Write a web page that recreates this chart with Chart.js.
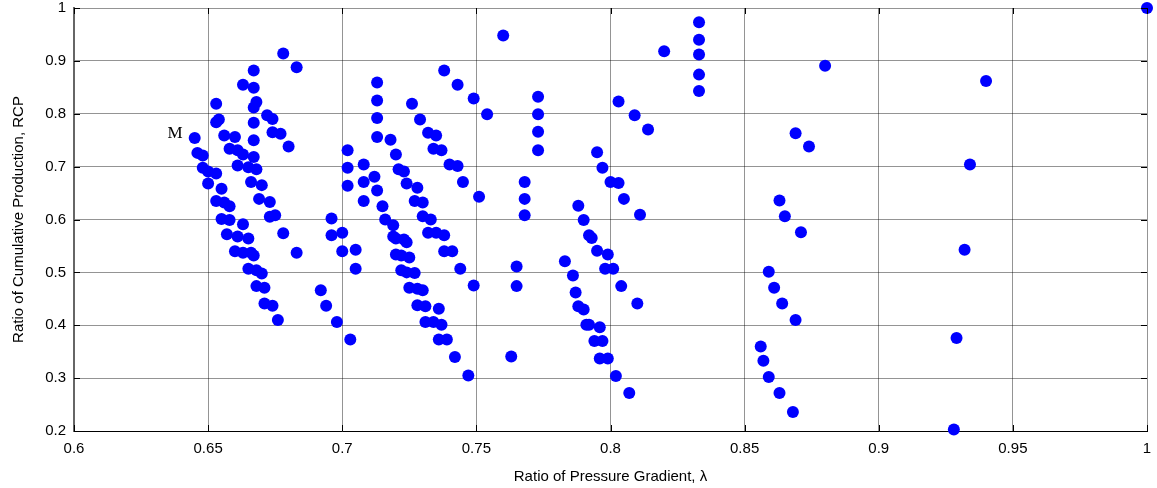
<!DOCTYPE html>
<html lang="en">
<head>
<meta charset="UTF-8">
<title>RCP vs ratio of pressure gradient</title>
<script src="https://cdn.jsdelivr.net/npm/chart.js@4.4.1/dist/chart.umd.min.js"></script>
<style>
    html, body { margin: 0; padding: 0; background: #fff; }
</style>
</head>
<body>
<canvas id="rcpChart" width="1157" height="488"></canvas>
<script>
// axis ticks
var xTicks = [0.6, 0.65, 0.7, 0.75, 0.8, 0.85, 0.9, 0.95, 1];
var xTickLabels = ['0.6', '0.65', '0.7', '0.75', '0.8', '0.85', '0.9', '0.95', '1'];
var yTicks = [0.2, 0.3, 0.4, 0.5, 0.6, 0.7, 0.8, 0.9, 1];
var yTickLabels = ['0.2', '0.3', '0.4', '0.5', '0.6', '0.7', '0.8', '0.9', '1'];

// band 1 : lambda 0.64 - 0.69 (first point is case M)
var lambda1 = [0.645, 0.646, 0.648, 0.648, 0.650, 0.650, 0.653, 0.653, 0.654, 0.653, 0.653, 0.655, 0.655,
    0.656, 0.656, 0.657, 0.658, 0.658, 0.658, 0.660, 0.660, 0.661, 0.661, 0.661, 0.663, 0.663, 0.663, 0.663,
    0.665, 0.665, 0.665, 0.666, 0.666, 0.667, 0.667, 0.667, 0.667, 0.667, 0.667, 0.667, 0.668, 0.668, 0.668,
    0.668, 0.669, 0.670, 0.670, 0.671, 0.671, 0.672, 0.673, 0.673, 0.674, 0.674, 0.674, 0.675, 0.676, 0.677,
    0.678, 0.678, 0.680, 0.683, 0.683];
var rcp1 = [0.754, 0.726, 0.721, 0.698, 0.691, 0.668, 0.687, 0.819, 0.789, 0.784, 0.635, 0.658, 0.601,
    0.759, 0.632, 0.572, 0.734, 0.625, 0.599, 0.756, 0.540, 0.731, 0.702, 0.568, 0.855, 0.723, 0.591, 0.537,
    0.699, 0.564, 0.507, 0.671, 0.537, 0.882, 0.849, 0.812, 0.783, 0.750, 0.718, 0.532, 0.822, 0.695, 0.504,
    0.474, 0.639, 0.665, 0.498, 0.471, 0.441, 0.797, 0.633, 0.605, 0.790, 0.765, 0.437, 0.608, 0.410, 0.762,
    0.914, 0.574, 0.738, 0.888, 0.537];

// band 2 : lambda 0.69 - 0.76
var lambda2 = [0.692, 0.694, 0.696, 0.696, 0.698, 0.700, 0.700, 0.702, 0.702, 0.702, 0.703, 0.705, 0.705,
    0.708, 0.708, 0.708, 0.712, 0.713, 0.713, 0.713, 0.713, 0.713, 0.715, 0.716, 0.718, 0.719, 0.719, 0.720,
    0.720, 0.720, 0.721, 0.722, 0.722, 0.723, 0.723, 0.724, 0.724, 0.724, 0.725, 0.725, 0.726, 0.727, 0.727,
    0.728, 0.728, 0.728, 0.729, 0.730, 0.730, 0.730, 0.731, 0.731, 0.732, 0.732, 0.733, 0.734, 0.734, 0.735,
    0.735, 0.736, 0.736, 0.737, 0.737, 0.738, 0.738, 0.738, 0.739, 0.740, 0.741, 0.742, 0.743, 0.743, 0.744,
    0.745, 0.747, 0.749, 0.749, 0.751, 0.754];
var rcp2 = [0.466, 0.437, 0.602, 0.570, 0.406, 0.575, 0.540, 0.731, 0.698, 0.664, 0.373, 0.543, 0.507,
    0.704, 0.671, 0.635, 0.681, 0.859, 0.825, 0.792, 0.756, 0.655, 0.625, 0.600, 0.751, 0.589, 0.568, 0.564,
    0.723, 0.534, 0.695, 0.532, 0.504, 0.691, 0.562, 0.668, 0.557, 0.500, 0.528, 0.471, 0.819, 0.635, 0.499,
    0.660, 0.469, 0.438, 0.789, 0.632, 0.606, 0.466, 0.436, 0.406, 0.764, 0.575, 0.600, 0.734, 0.406, 0.759,
    0.575, 0.431, 0.373, 0.731, 0.401, 0.882, 0.570, 0.540, 0.373, 0.704, 0.540, 0.340, 0.855, 0.701, 0.507,
    0.671, 0.305, 0.829, 0.475, 0.643, 0.799];

// band 3 : lambda 0.76 - 0.78
var lambda3 = [0.760, 0.763, 0.765, 0.765, 0.768, 0.768, 0.768, 0.773, 0.773, 0.773, 0.773];
var rcp3 = [0.948, 0.341, 0.511, 0.474, 0.671, 0.639, 0.608, 0.832, 0.799, 0.766, 0.731];

// band 4 : lambda 0.78 - 0.84
var lambda4 = [0.783, 0.786, 0.787, 0.788, 0.788, 0.790, 0.790, 0.791, 0.792, 0.792, 0.793, 0.794, 0.795,
    0.795, 0.796, 0.796, 0.797, 0.797, 0.798, 0.799, 0.799, 0.800, 0.801, 0.802, 0.803, 0.803, 0.804, 0.805,
    0.807, 0.809, 0.810, 0.811, 0.814, 0.820, 0.833, 0.833, 0.833, 0.833, 0.833];
var rcp4 = [0.521, 0.494, 0.462, 0.626, 0.436, 0.599, 0.430, 0.401, 0.570, 0.401, 0.565, 0.370, 0.727,
    0.541, 0.396, 0.337, 0.698, 0.370, 0.507, 0.534, 0.337, 0.671, 0.507, 0.304, 0.823, 0.669, 0.474, 0.639,
    0.272, 0.797, 0.441, 0.609, 0.770, 0.918, 0.973, 0.940, 0.912, 0.874, 0.843];

// band 5 : lambda 0.85 - 0.88
var lambda5 = [0.856, 0.857, 0.859, 0.859, 0.861, 0.863, 0.863, 0.864, 0.865, 0.868, 0.869, 0.869, 0.871,
    0.874, 0.880];
var rcp5 = [0.360, 0.333, 0.501, 0.302, 0.471, 0.636, 0.272, 0.441, 0.606, 0.236, 0.763, 0.410, 0.576,
    0.738, 0.891];

// band 6 : lambda 0.92 - 1
var lambda6 = [0.928, 0.929, 0.932, 0.934, 0.940, 1.0];
var rcp6 = [0.203, 0.376, 0.543, 0.704, 0.862, 1.0];

var bands = [[lambda1, rcp1], [lambda2, rcp2], [lambda3, rcp3], [lambda4, rcp4], [lambda5, rcp5], [lambda6, rcp6]];
var points = [];
bands.forEach(function (b) {
    for (var i = 0; i < b[0].length; i++) {
        points.push({ x: b[0][i], y: b[1][i] });
    }
});

var tickFont = { family: '"Liberation Sans", Arial, sans-serif', size: 15 };
var gridColor = 'rgba(0,0,0,0.42)';

// short inward tick marks on all four sides + the "M" note
var frameTicks = {
    id: 'frameTicks',
    afterDraw: function (chart) {
        var ctx = chart.ctx, a = chart.chartArea;
        var xs = chart.scales.x, ys = chart.scales.y;
        ctx.save();
        ctx.strokeStyle = '#000';
        ctx.lineWidth = 1;
        ctx.beginPath();
        xTicks.forEach(function (v) {
            var px = Math.round(xs.getPixelForValue(v)) + 0.5;
            ctx.moveTo(px, a.bottom); ctx.lineTo(px, a.bottom - 6);
            ctx.moveTo(px, a.top); ctx.lineTo(px, a.top + 6);
        });
        yTicks.forEach(function (v) {
            var py = Math.round(ys.getPixelForValue(v)) + 0.5;
            ctx.moveTo(a.left, py); ctx.lineTo(a.left + 6, py);
            ctx.moveTo(a.right, py); ctx.lineTo(a.right - 6, py);
        });
        ctx.stroke();

        ctx.font = '17px "Liberation Serif", "Times New Roman", serif';
        ctx.fillStyle = '#000';
        ctx.textAlign = 'right';
        ctx.textBaseline = 'middle';
        ctx.fillText('M', xs.getPixelForValue(lambda1[0]) - 12, ys.getPixelForValue(rcp1[0]) - 5);
        ctx.restore();
    }
};

new Chart(document.getElementById('rcpChart'), {
    type: 'scatter',
    data: {
        datasets: [{
            data: points,
            backgroundColor: '#0000ff',
            borderColor: '#0000ff',
            borderWidth: 0,
            pointRadius: 6,
            pointHoverRadius: 6,
            clip: false
        }]
    },
    options: {
        responsive: false,
        animation: false,
        events: [],
        layout: { padding: { top: 8, right: 10, left: 0, bottom: 0 } },
        plugins: {
            legend: { display: false },
            tooltip: { enabled: false }
        },
        scales: {
            x: {
                type: 'linear',
                min: 0.6,
                max: 1,
                afterFit: function (scale) {
                    scale.height = 57;
                    scale.paddingLeft = 0;
                    scale.paddingRight = 0;
                },
                afterBuildTicks: function (scale) {
                    scale.ticks = xTicks.map(function (v) { return { value: v }; });
                },
                ticks: {
                    color: '#000',
                    font: tickFont,
                    padding: 9,
                    maxRotation: 0,
                    callback: function (v) { return xTickLabels[xTicks.indexOf(v)]; }
                },
                grid: { color: gridColor, drawTicks: false },
                border: { color: '#000', width: 1 },
                title: {
                    display: true,
                    text: 'Ratio of Pressure Gradient, \u03bb',
                    color: '#000',
                    font: tickFont,
                    padding: { top: 0, bottom: 2 }
                }
            },
            y: {
                type: 'linear',
                min: 0.2,
                max: 1,
                afterFit: function (scale) {
                    scale.width = 74;
                    scale.paddingTop = 0;
                    scale.paddingBottom = 0;
                },
                afterBuildTicks: function (scale) {
                    scale.ticks = yTicks.map(function (v) { return { value: v }; });
                },
                ticks: {
                    color: '#000',
                    font: tickFont,
                    padding: 8,
                    callback: function (v) { return yTickLabels[yTicks.indexOf(v)]; }
                },
                grid: { color: gridColor, drawTicks: false },
                border: { color: '#666', width: 2 },
                title: {
                    display: true,
                    text: 'Ratio of Cumulative Production, RCP',
                    color: '#000',
                    font: tickFont,
                    padding: { top: 10, bottom: 0 }
                }
            }
        }
    },
    plugins: [frameTicks]
});
</script>
</body>
</html>
